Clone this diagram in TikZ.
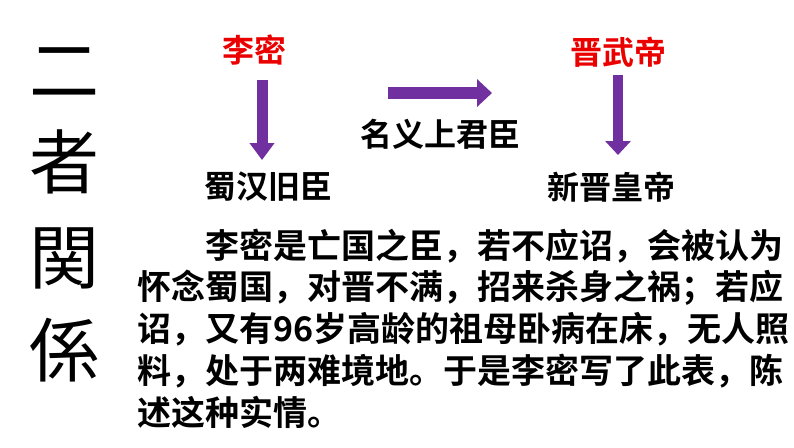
\documentclass[tikz,border=0pt]{standalone}
\usepackage{fontspec}
\usetikzlibrary{arrows.meta}
\newfontfamily\cjk{Noto Sans CJK SC}[BoldFont={* Bold}]
\newfontfamily\cjkjp{Noto Sans CJK JP}[BoldFont={* Bold}]
\definecolor{arrowpurple}{RGB}{112,48,160}
\definecolor{titlered}{RGB}{235,0,0}
\tikzset{
  redlabel/.style={font=\cjk\bfseries\fontsize{32}{32}\selectfont, text=titlered, inner sep=0pt},
  blacklabel/.style={font=\cjk\bfseries\fontsize{32}{32}\selectfont, text=black, inner sep=0pt},
  paraline/.style={font=\cjk\bfseries\fontsize{34}{34}\selectfont, text=black, inner sep=0pt, anchor=west},
  brush/.style={font=\cjkjp\fontsize{70}{70}\selectfont, text=black, inner sep=0pt},
  blockarrow/.style={draw=arrowpurple, line width=#1},
}
\begin{document}
\begin{tikzpicture}[x=1pt,y=-1pt]
\useasboundingbox (0,0) rectangle (794,447);
\fill[white] (0,0) rectangle (794,447);
% calligraphic title
\node[brush] (c1) at (64,72) {二};
\node[brush] (c2) at (64,162) {者};
\node[brush] (c3) at (64,258) {関};
\node[brush] (c4) at (64,350) {係};
% labels
\node[redlabel] (li) at (254,50) {李密};
\node[redlabel] (jw) at (618,52) {晋武帝};
\node[blacklabel] (shu) at (268,187) {蜀汉旧臣};
\node[blacklabel] (xin) at (611,187) {新晋皇帝};
\node[blacklabel] (ming) at (440,134) {名义上君臣};
% arrow anchors
\coordinate (a1s) at (262,80);
\coordinate (a1e) at (262,160);
\coordinate (a2s) at (388,93);
\coordinate (a2e) at (492,93);
\coordinate (a3s) at (618,75);
\coordinate (a3e) at (618,155);
\draw[blockarrow=11pt, -{Triangle[width=24pt,length=17pt]}] (a1s) -- (a1e);
\draw[blockarrow=12pt, -{Triangle[width=27pt,length=15pt]}] (a2s) -- (a2e);
\draw[blockarrow=10pt, -{Triangle[width=25pt,length=14pt]}] (a3s) -- (a3e);
% paragraph
\node[paraline] (p1) at (205,246) {李密是亡国之臣，若不应诏，会被认为};
\node[paraline] (p2) at (137,288) {怀念蜀国，对晋不满，招来杀身之祸；若应};
\node[paraline] (p3) at (137,329) {诏，又有96岁高龄的祖母卧病在床，无人照};
\node[paraline] (p4) at (137,371) {料，处于两难境地。于是李密写了此表，陈};
\node[paraline] (p5) at (137,412) {述这种实情。};
\end{tikzpicture}
\end{document}
